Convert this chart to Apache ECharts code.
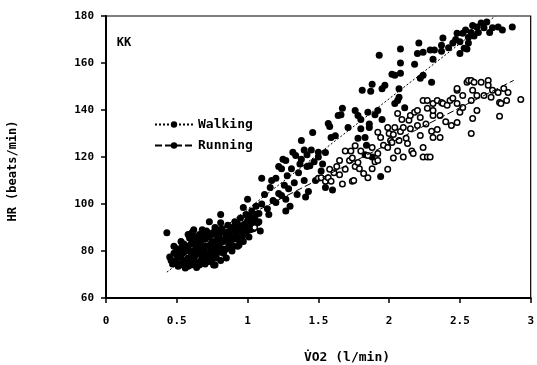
<!DOCTYPE html>
<html>
<head>
<meta charset="utf-8">
<script src="https://cdn.jsdelivr.net/npm/echarts@6/dist/echarts.min.js"></script>
<style>
  html, body { margin: 0; padding: 0; background: #fff; }
  #chart { width: 537px; height: 365px; }
</style>
</head>
<body>
<div id="chart"></div>
<script>
// Heart rate vs. oxygen uptake for subject KK: walking trials (filled) and running trials (open)
const subjectLabel = 'KK';
const xTicks = [0, 0.5, 1, 1.5, 2, 2.5, 3];
const yTicks = [60, 80, 100, 120, 140, 160, 180];

// [VO2 (l/min), HR (beats/min)]
const walkingPoints = [
  [0.43,87.8],[0.45,77.5],[0.47,74.5],[0.48,79],[0.49,76],[0.50,81],[0.50,75],[0.51,73.5],[0.52,77.5],[0.53,84],
  [0.53,78],[0.54,75],[0.55,79.5],[0.55,83],[0.56,72.8],[0.57,82],[0.57,75.5],[0.58,77],[0.58,87],[0.59,85.5],
  [0.59,80],[0.60,74],[0.60,79.5],[0.61,88],[0.62,76.5],[0.62,80],[0.62,84.5],[0.62,89],[0.63,82.5],[0.64,73],
  [0.64,86],[0.65,79],[0.65,75],[0.66,83.5],[0.66,87],[0.67,76],[0.67,78.5],[0.68,89],[0.68,81],[0.69,80.5],
  [0.70,74.5],[0.70,85],[0.70,79],[0.71,78],[0.72,82],[0.72,86],[0.73,87.5],[0.73,75.5],[0.73,92.5],[0.74,80],
  [0.74,83],[0.75,84],[0.75,76.5],[0.76,78.5],[0.76,88],[0.76,74],[0.77,90],[0.77,74],[0.78,82],[0.78,84.5],
  [0.79,86],[0.80,79.5],[0.80,83],[0.81,92],[0.81,76],[0.81,95.5],[0.82,84.5],[0.83,88],[0.83,79],[0.84,80.5],
  [0.84,85],[0.85,77],[0.85,86],[0.86,91],[0.87,83],[0.87,87],[0.87,82.6],[0.88,88.5],[0.89,80],[0.90,85],
  [0.90,82],[0.91,92.5],[0.92,87],[0.92,90],[0.93,82],[0.94,89.5],[0.94,82.6],[0.95,94],[0.95,86],[0.96,85.5],
  [0.97,91],[0.97,84],[0.97,98.5],[0.98,88],[0.99,95.5],[1.00,90],[1.00,93],[1.00,102],[1.01,86],[1.02,93],
  [1.03,97],[1.03,91],[1.04,89.5],[1.05,94.5],[1.06,99],[1.07,92],[1.08,96],[1.09,88.5],[1.10,100],[1.10,111],
  [0.46,76],[0.48,82],[0.50,78.5],[0.52,74],[0.52,80.5],[0.54,79],[0.54,82.5],[0.56,76],[0.56,80.5],[0.58,73.5],
  [0.58,81.5],[0.60,77],[0.60,83],[0.61,75],[0.63,78],[0.63,86],[0.64,80.5],[0.66,74],[0.66,81],[0.67,84.5],
  [0.68,77],[0.69,87],[0.70,82],[0.71,75.5],[0.71,88.5],[0.72,79],[0.74,77],[0.75,81],[0.75,87],[0.77,80],
  [0.77,83.5],[0.78,77],[0.79,89],[0.80,86.5],[0.82,81],[0.82,89.5],[0.83,84],[0.85,81],[0.86,88],[0.88,84.5],
  [0.89,90],[0.91,86],[0.91,89],[0.93,85],[0.93,91.5],[0.96,88.5],[0.98,91.5],[0.99,87],[1.01,95],[1.02,89],
  [1.04,93],[1.06,95.5],[1.08,92.5],
  [1.12,104],[1.14,98],[1.15,95.5],[1.16,107],[1.17,110],[1.18,101.5],[1.20,100.6],[1.20,111],[1.22,104.5],[1.22,116],
  [1.24,115],[1.24,103.6],[1.25,119],[1.26,108],[1.27,102],[1.27,97],[1.27,118.5],[1.28,112],[1.29,106.5],[1.30,99],
  [1.31,115],[1.32,122],[1.33,109],[1.34,120.6],[1.35,104],[1.36,113.3],[1.37,117],[1.38,127],[1.38,119],[1.40,110],
  [1.40,123],[1.41,103],[1.42,121],[1.42,116],[1.43,105.3],[1.44,116.3],[1.45,123],[1.46,130.4],[1.47,118],[1.48,110],
  [1.50,120],[1.50,122],[1.52,114],[1.53,117],[1.55,121.9],[1.55,107],[1.57,134.3],[1.58,133],[1.59,128.3],[1.60,106],
  [1.62,129],[1.64,137.7],[1.66,138],[1.67,140.7],[1.71,132.6],[1.76,139.8],[1.78,137.7],[1.78,128],[1.80,132],[1.80,136],
  [1.81,148.4],[1.83,128.3],[1.83,121],[1.84,125],[1.85,139],[1.86,132.6],[1.86,134],[1.87,148],[1.88,151],[1.88,120],
  [1.90,138],[1.92,139.8],[1.93,163.3],[1.94,111.7],[1.95,149],[1.95,136],[1.97,150.5],[2.02,155.2],[2.04,154.8],[2.04,142.8],
  [2.06,144],[2.07,149],[2.07,145.4],[2.08,155.6],[2.08,166],[2.08,160],[2.11,141],[2.18,159.5],[2.20,164],[2.21,168.5],
  [2.22,153.5],[2.24,154.8],[2.24,164.6],[2.29,165.5],[2.30,151.8],[2.31,161.6],[2.32,165.5],[2.37,165],[2.37,167.6],[2.38,170.6],
  [2.42,166.5],[2.45,168.5],[2.47,170],[2.48,172.7],[2.50,164],[2.50,169],[2.52,172.7],[2.53,166.3],[2.54,174],[2.55,166],
  [2.56,171],[2.56,168.5],[2.58,173],[2.59,176],[2.60,171.5],[2.62,175.3],[2.63,173],[2.65,177],[2.67,175],[2.69,177.4],
  [2.71,173],[2.73,175],[2.77,175.3],[2.80,174],[2.87,175.3]
];

const runningPoints = [
  [1.05,90],[1.50,111],[1.52,111.2],[1.55,109.7],[1.57,111.2],[1.58,114.8],[1.59,109.7],[1.61,113.3],[1.63,116],[1.65,112.5],
  [1.65,118.5],[1.67,108.5],[1.69,114.8],[1.69,122.6],[1.72,118.5],[1.73,122.6],[1.74,109.7],[1.74,119.6],[1.75,110],[1.76,116],
  [1.76,124.8],[1.78,117.7],[1.79,115],[1.80,122.6],[1.82,113],[1.85,111.2],[1.85,120.6],[1.88,115],[1.88,124],[1.90,118],
  [1.92,118.5],[1.92,121.5],[1.94,128.3],[1.92,130.5],[1.96,125],[1.99,114.8],[1.99,124],[1.99,132.6],[2.00,130],[2.01,127],
  [2.02,126.2],[2.03,119.6],[2.03,129.6],[2.04,132.6],[2.06,122.6],[2.06,138.5],[2.07,127],[2.08,130.9],[2.09,136],[2.10,120],
  [2.10,132.6],[2.12,128],[2.13,125.7],[2.14,135.6],[2.15,137.7],[2.15,132],[2.16,122.6],[2.17,121.5],[2.18,139],[2.20,133.4],
  [2.20,139.8],[2.22,136.8],[2.22,129.1],[2.24,124],[2.24,144],[2.24,120],[2.26,134],[2.27,140.7],[2.27,120],[2.29,120],
  [2.27,144],[2.30,131],[2.31,137.7],[2.31,139.8],[2.31,128.3],[2.31,142.8],[2.34,131.7],[2.34,144],[2.36,128.3],[2.36,137.7],
  [2.37,143.2],[2.38,142.8],[2.40,135],[2.41,142],[2.43,144],[2.44,133.4],[2.45,145],[2.48,134.7],[2.48,142.8],[2.48,148.4],
  [2.48,149.2],[2.50,139],[2.52,141.1],[2.52,146.2],[2.55,151.8],[2.56,152.6],[2.58,144],[2.58,152.6],[2.58,130],[2.59,136.4],
  [2.59,148.4],[2.60,151.8],[2.62,139.8],[2.62,146.2],[2.65,151.8],[2.67,146.2],[2.70,152.6],[2.70,150.5],[2.72,145.4],[2.73,148.4],
  [2.77,147.5],[2.78,143.2],[2.78,137.3],[2.79,142.8],[2.81,149.2],[2.83,144],[2.84,147.5],[2.93,144.5]
];

// Regression lines
const walkingFit = [[0.43, 71], [2.75, 180]];
const runningFit = [[0.90, 92], [2.88, 152.6]];

const FONT = 'DejaVu Sans Mono';
const chart = echarts.init(document.getElementById('chart'), null, { renderer: 'canvas' });

chart.setOption({
  animation: false,
  backgroundColor: '#fff',
  grid: {
    left: 106, right: 2, top: 16, bottom: 67,
    show: true, borderColor: '#000', borderWidth: 1.2
  },
  legend: {
    data: ['Walking', 'Running'],
    orient: 'vertical',
    left: 149, top: 113,
    itemWidth: 38, itemHeight: 8, itemGap: 8,
    textStyle: { fontFamily: FONT, fontWeight: 'bold', fontSize: 13, color: '#000', padding: [0, 0, 0, 0] },
    selectedMode: false
  },
  xAxis: {
    type: 'value',
    min: xTicks[0], max: xTicks[xTicks.length - 1], interval: xTicks[1] - xTicks[0],
    splitLine: { show: false },
    axisLine: { lineStyle: { color: '#000', width: 2 } },
    axisTick: { inside: false, length: 5, lineStyle: { color: '#000', width: 1.5 } },
    axisLabel: { color: '#000', fontFamily: FONT, fontWeight: 'bold', fontSize: 11, margin: 18 }
  },
  yAxis: {
    type: 'value',
    min: yTicks[0], max: yTicks[yTicks.length - 1], interval: yTicks[1] - yTicks[0],
    splitLine: { show: false },
    axisLine: { show: true, lineStyle: { color: '#000', width: 2 } },
    axisTick: { show: true, inside: false, length: 5, lineStyle: { color: '#000', width: 1.5 } },
    axisLabel: { color: '#000', fontFamily: FONT, fontWeight: 'bold', fontSize: 11, margin: 12 }
  },
  graphic: [
    { type: 'text', x: 124, y: 43, style: { text: subjectLabel, fill: '#000', font: 'bold 12px ' + FONT, align: 'center', verticalAlign: 'middle' } },
    { type: 'text', x: 13, y: 171, rotation: Math.PI / 2, style: { text: 'HR (beats/min)', fill: '#000', font: 'bold 12px ' + FONT, align: 'center', verticalAlign: 'middle' } },
    { type: 'text', x: 347, y: 358, style: { text: 'V\u0307O2 (l/min)', fill: '#000', font: 'bold 13px ' + FONT, align: 'center', verticalAlign: 'middle' } }
  ],
  series: [
    {
      name: 'Walking points', type: 'scatter', data: walkingPoints,
      symbol: 'circle', symbolSize: 7,
      itemStyle: { color: '#000', opacity: 1 }, z: 3
    },
    {
      name: 'Running points', type: 'scatter', data: runningPoints,
      symbol: 'circle', symbolSize: 5.5,
      itemStyle: { color: '#fff', borderColor: '#000', borderWidth: 1.5, opacity: 1 }, z: 4
    },
    {
      name: 'Walking', type: 'line', data: walkingFit,
      symbol: 'circle', symbolSize: 6, showSymbol: false,
      itemStyle: { color: '#000' },
      lineStyle: { color: '#000', width: 1, type: [2, 2] }, z: 5
    },
    {
      name: 'Running', type: 'line', data: runningFit,
      symbol: 'circle', symbolSize: 6, showSymbol: false,
      itemStyle: { color: '#000' },
      lineStyle: { color: '#000', width: 1, type: [7, 3] }, z: 5
    }
  ]
});
</script>
</body>
</html>
